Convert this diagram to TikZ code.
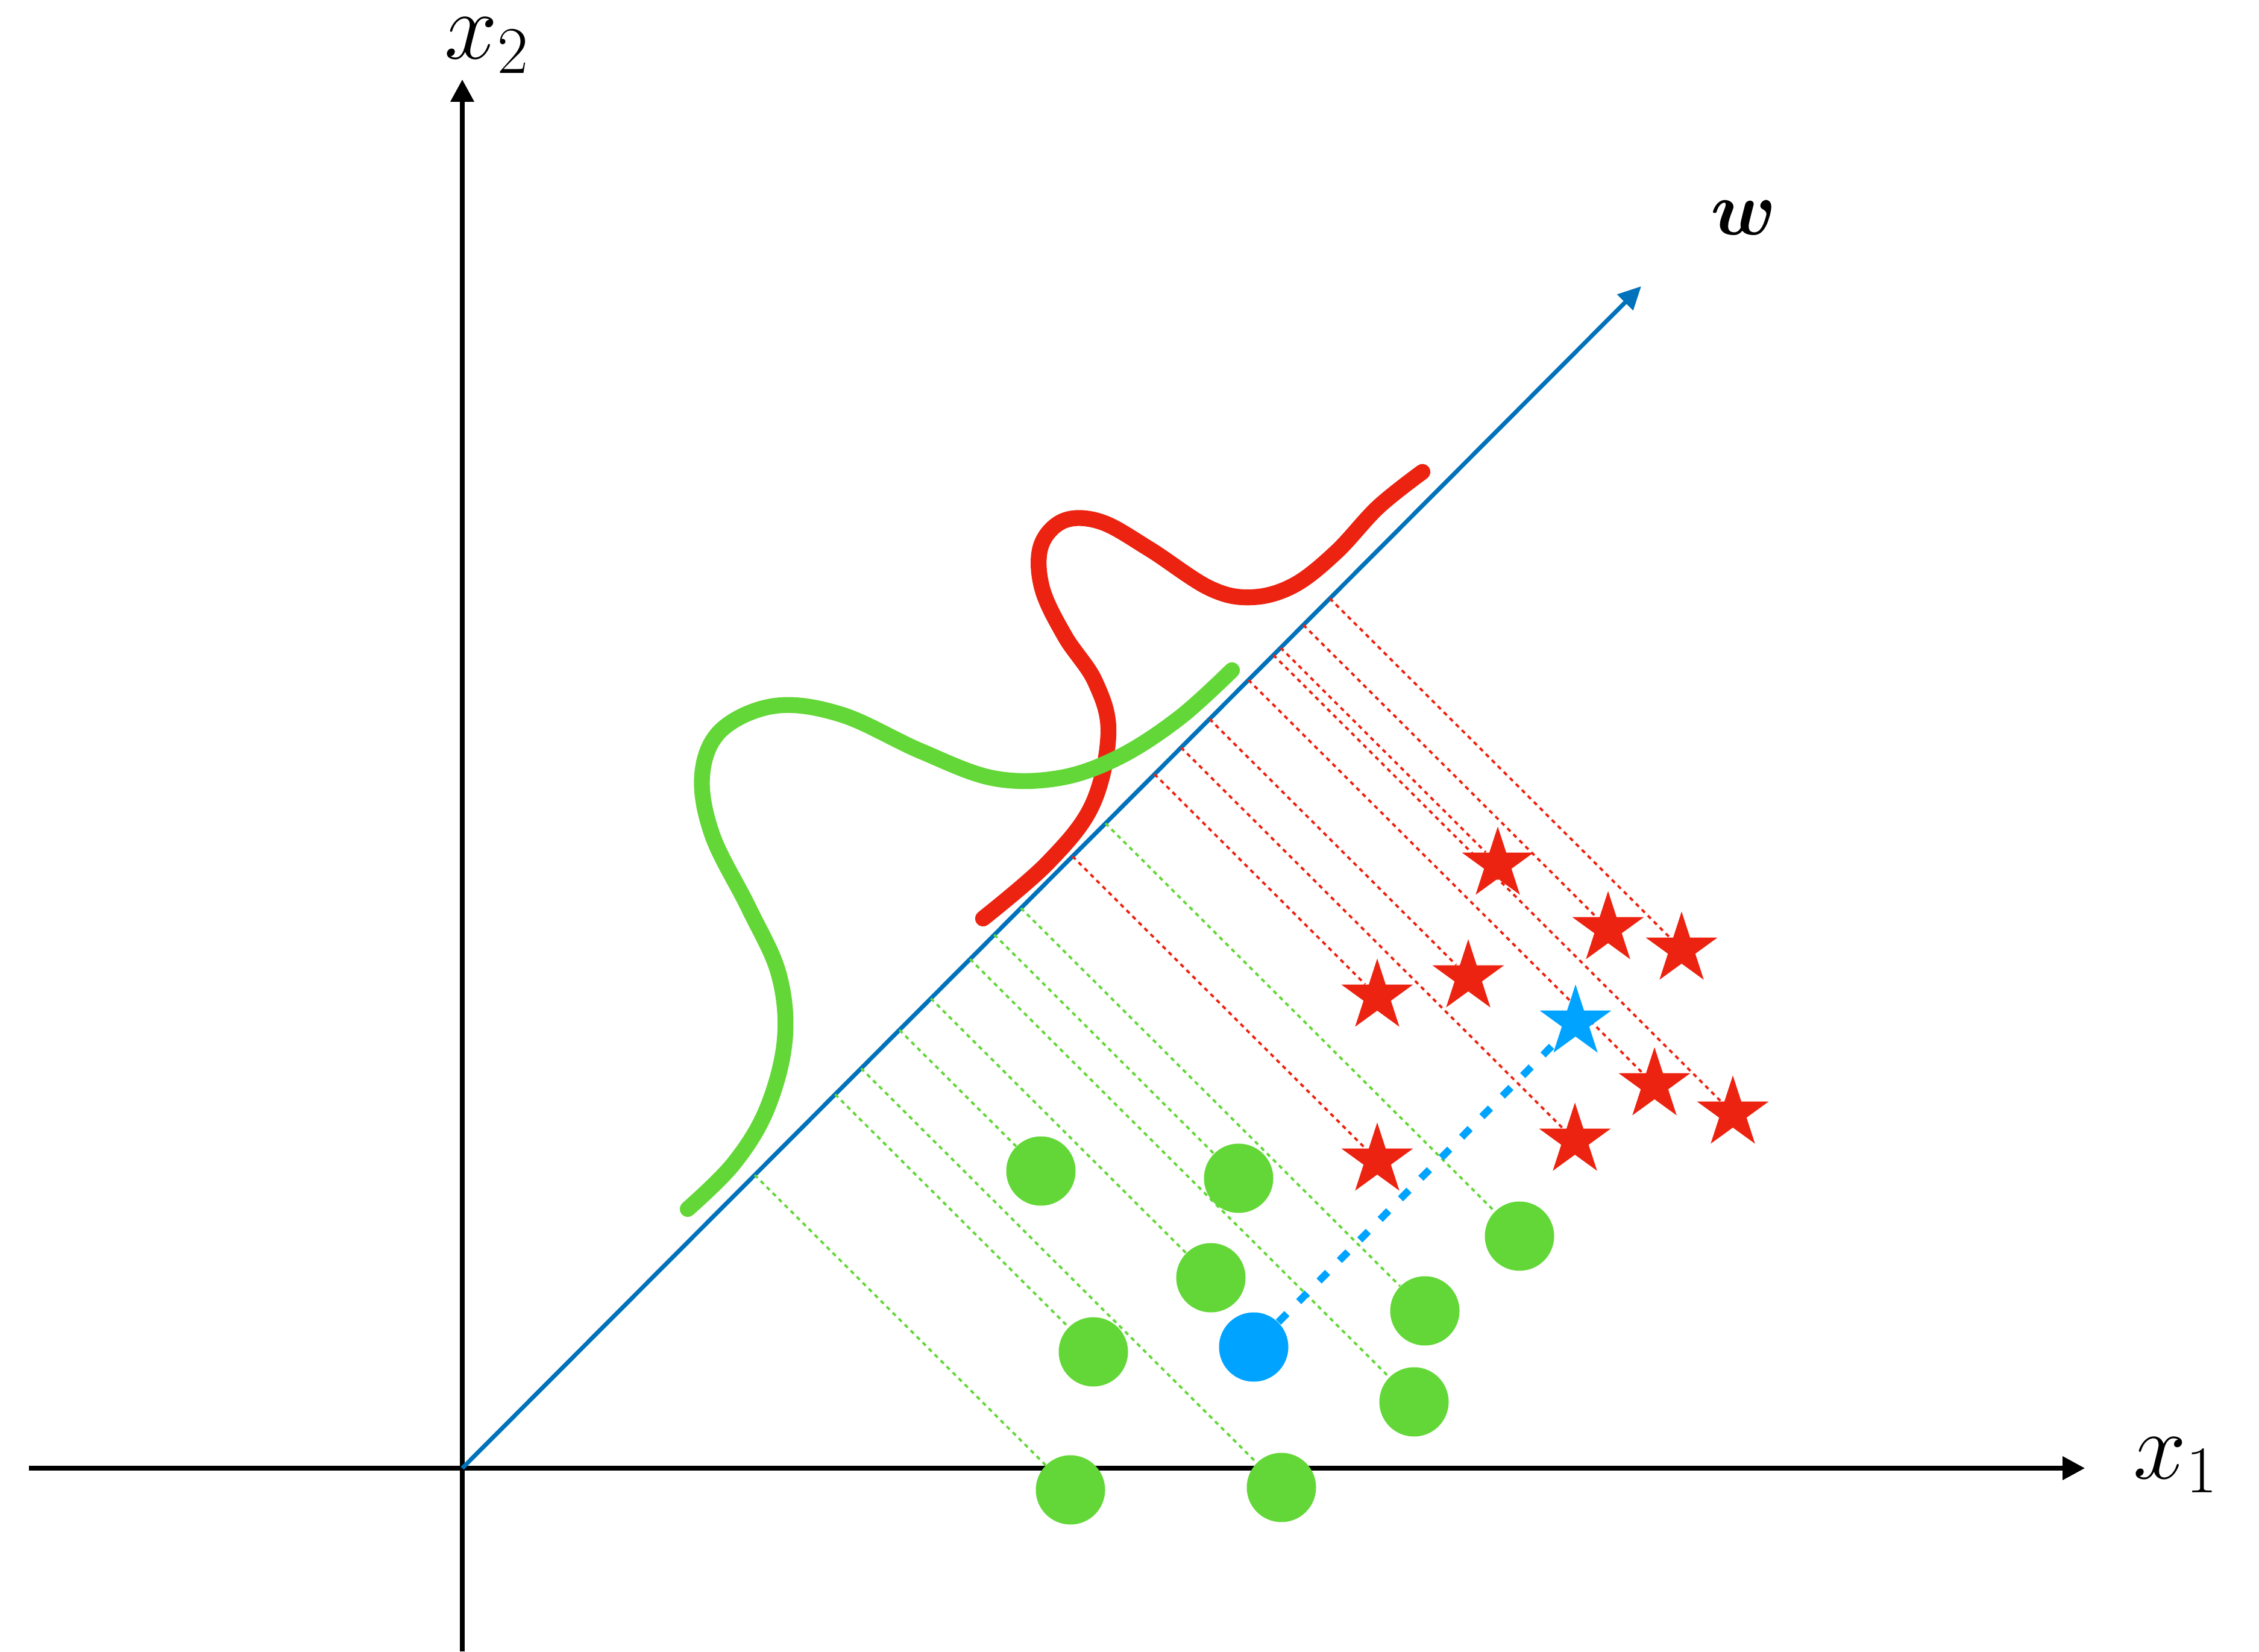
\RequirePackage{fix-cm}
\documentclass[tikz,border=0pt]{standalone}
\usepackage{amssymb}
\usepackage{amsmath}
\usepackage{tikz}
\usetikzlibrary{calc,arrows.meta,shapes.geometric}

\definecolor{wblue}{RGB}{0,114,188}
\definecolor{ptblue}{RGB}{0,163,255}
\definecolor{clsred}{RGB}{236,35,16}
\definecolor{clsgreen}{RGB}{99,215,56}

\begin{document}
\begin{tikzpicture}[
    axis/.style={line width=2pt, -{Triangle[length=0.37cm,width=0.38cm]}},
    dot/.style={circle, fill=#1, minimum size=1.15cm, inner sep=0pt},
    starmark/.style={star, star points=5, star point ratio=2.618, fill=#1, minimum size=1.25cm, inner sep=0pt},
    proj/.style={#1, line width=1.1pt, dash pattern=on 2pt off 2pt},
    density/.style={#1, line width=7.5pt, line cap=round, line join=round},
    lbl/.style={anchor=base west, inner sep=0pt, font=\fontsize{45}{50}\selectfont}
  ]
    \useasboundingbox (-7.67,-3.04) rectangle (29.81,24.36);
    \coordinate (O) at (0,0); \coordinate (W) at (19.56,19.61);
    \draw[axis] (-7.19,0) -- (26.92,0); \draw[axis] (0,-3.04) -- (0,23.04);
    \node[lbl] (x1) at (27.72,-0.17) {$x_1$};
    \node[lbl] (x2) at (-0.30,23.38) {$x_2$};

    % class densities along w
    \draw[density=clsred] plot[smooth, tension=0.6] coordinates {(8.64,9.12) (9.71,10.04) (10.45,11.0) (10.72,12.2) (10.5,13.05) (10.0,13.8) (9.62,14.6) (9.6,15.3) (9.98,15.72) (10.6,15.7) (11.4,15.25) (12.4,14.6) (13.1,14.45) (13.8,14.65) (14.5,15.2) (15.2,15.95) (15.93,16.53)};
    \draw[density=clsgreen] plot[smooth, tension=0.6] coordinates {(3.74,4.30) (4.5,5.05) (5.05,5.95) (5.35,7.1) (5.25,8.2) (4.75,9.3) (4.15,10.5) (3.98,11.5) (4.3,12.25) (5.2,12.65) (6.3,12.5) (7.6,11.9) (8.8,11.45) (9.9,11.45) (10.9,11.8) (11.9,12.45) (12.77,13.24)};

    \draw[wblue, line width=2pt, -{Triangle[length=0.38cm,width=0.36cm]}] (O) -- (W);
    \node[lbl, font=\fontsize{36}{40}\selectfont] (wlab) at (20.71,20.46) {$\boldsymbol{w}$};

    % samples and their projections
    \foreach \n/\x/\y in {1/9.60/4.93, 2/12.88/4.81, 3/12.42/3.16, 4/10.47/1.93, 5/15.97/2.61, 6/17.54/3.85, 7/15.79/1.10, 8/10.09/-0.36, 9/13.59/-0.32}
      \node[dot=clsgreen] (g\n) at (\x,\y) {};
    \foreach \n/\x/\y in {1/17.18/10.02, 2/19.01/8.95, 3/20.23/8.61, 4/15.18/7.83, 5/16.69/8.15, 6/19.78/6.36, 7/21.08/5.89, 8/15.18/5.11, 9/18.46/5.44}
      \node[starmark=clsred] (r\n) at (\x,\y) {};
    \foreach \n in {1,...,9} {
      \coordinate (fg\n) at ($(O)!(g\n)!(W)$); \draw[proj=clsgreen] (fg\n) -- (g\n);
      \coordinate (fr\n) at ($(O)!(r\n)!(W)$); \draw[proj=clsred] (fr\n) -- (r\n);
    }

    \node[dot=ptblue] (bc) at (13.13,2.01) {};
    \node[starmark=ptblue] (bs) at (18.47,7.40) {};
    \draw[ptblue, line width=0.12cm, dash pattern=on 0.2cm off 0.28cm] (bc) -- (bs);
\end{tikzpicture}
\end{document}
